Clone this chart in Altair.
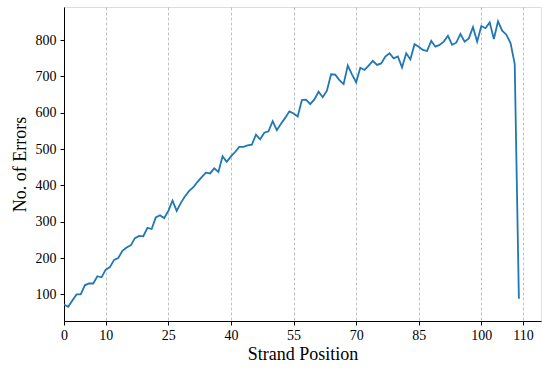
import altair as alt
import pandas as pd

positions = list(range(110))
errors = [72, 66, 83, 100, 100, 125, 130, 130, 150, 147,
          168, 175, 195, 200, 220, 229, 235, 255, 261, 260,
          283, 280, 312, 318, 310, 330, 358, 330, 352, 370,
          385, 395, 410, 423, 435, 433, 447, 437, 480, 465,
          480, 492, 506, 506, 510, 512, 540, 527, 545, 549,
          577, 552, 570, 586, 604, 598, 590, 635, 636, 624,
          637, 658, 643, 661, 706, 705, 690, 679, 730, 706,
          684, 724, 718, 730, 743, 732, 736, 755, 764, 750,
          755, 725, 764, 747, 789, 782, 773, 770, 798, 782,
          787, 796, 812, 787, 793, 817, 796, 805, 836, 796,
          839, 833, 849, 803, 852, 826, 815, 792, 735, 88]
x_ticks = [0, 10, 25, 40, 55, 70, 85, 100, 110]
y_ticks = [100, 200, 300, 400, 500, 600, 700, 800]

df = pd.DataFrame({"pos": positions, "err": errors})

font = "Liberation Serif"

chart = alt.Chart(df).mark_line(color="#1f77b4", strokeWidth=1.8, clip=True).encode(
    x=alt.X("pos:Q",
            scale=alt.Scale(domain=[0, 114.3], nice=False, zero=False),
            axis=alt.Axis(values=x_ticks, title="Strand Position", grid=True,
                          gridDash=[3, 2], gridColor="#b0b0b0", gridWidth=0.8,
                          tickSize=4, tickColor="black", domainColor="black",
                          labelPadding=3, labelFontSize=14, labelFont=font,
                          labelColor="black", titleFont=font, titleFontSize=18,
                          titleFontWeight="normal", titleColor="black",
                          titlePadding=3, labelFlush=False)),
    y=alt.Y("err:Q",
            scale=alt.Scale(domain=[26.7, 891.3], nice=False, zero=False),
            axis=alt.Axis(values=y_ticks, title="No. of Errors", grid=False,
                          tickSize=4, tickColor="black", domainColor="black",
                          labelPadding=4, labelFontSize=14, labelFont=font,
                          labelColor="black", titleFont=font, titleFontSize=18,
                          titleFontWeight="normal", titleColor="black",
                          titlePadding=6)),
).properties(
    width=477, height=314,
    autosize=alt.AutoSizeParams(type="none"),
    padding={"left": 64, "top": 7, "right": 1, "bottom": 48},
).configure_view(stroke="black", strokeWidth=1).configure(background="white")

chart.save("out.html", embed_options={"renderer": "svg", "actions": False})
